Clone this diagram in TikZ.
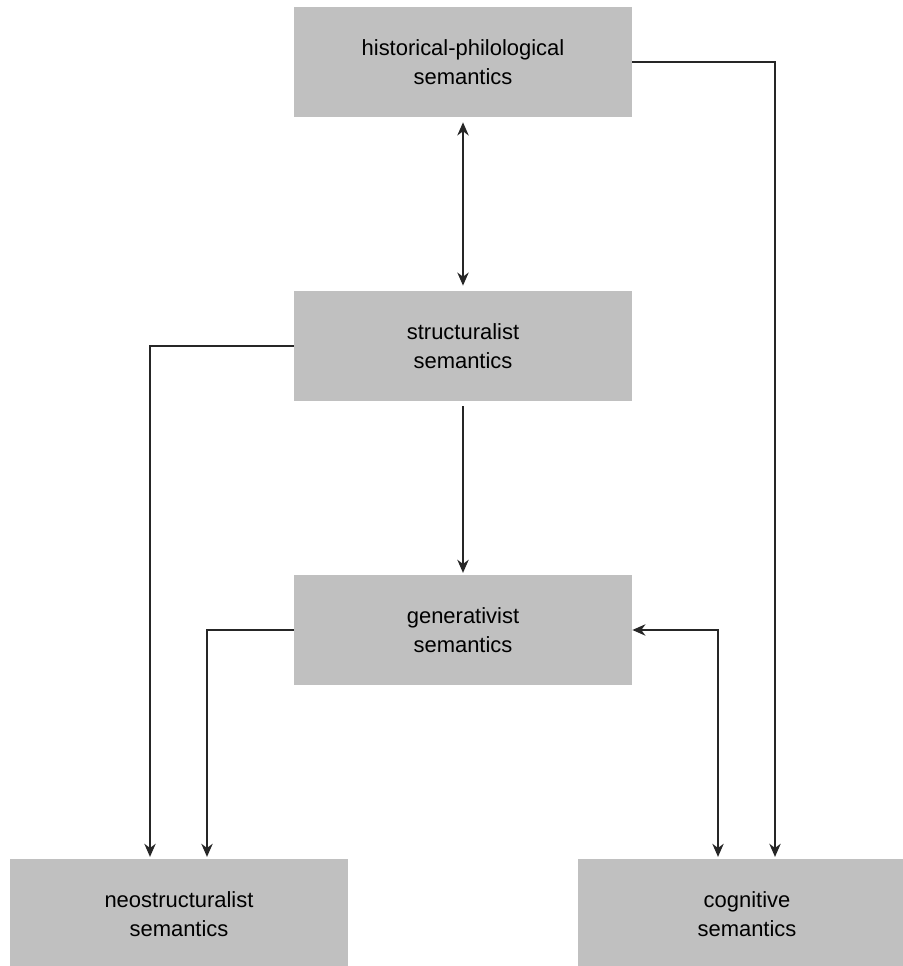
\documentclass[tikz,border=0pt]{standalone}
\usepackage{fontspec}
\setmainfont{Liberation Sans}
\usepackage{tikz}
\usetikzlibrary{calc,positioning,arrows.meta}

\definecolor{boxgray}{HTML}{C0C0C0}
\tikzset{
	sembox/.style={fill=boxgray, minimum width=6.76cm, minimum height=2.2cm, align=center,
		font=\fontsize{12.5}{16.4}\selectfont, inner sep=0pt},
	link/.style={line width=0.9pt, draw=black!85, -{Stealth[length=7.5pt,width=6.5pt]}, shorten >=1pt},
	twolink/.style={link, {Stealth[length=7.5pt,width=6.5pt]}-{Stealth[length=7.5pt,width=6.5pt]}, shorten <=1pt}
}

\begin{document}
\begin{tikzpicture}
			\useasboundingbox (0,0) rectangle (18.04,19.32);

			\node[sembox] (hist) at(9.26, 18.08){historical-philological\\semantics};
			\node[sembox] (struct) at(9.26, 12.40){structuralist\\semantics};
			\node[sembox] (gen) at(9.26, 6.72){generativist\\semantics};
			\node[sembox] (neo) at(3.58, 1.04){neostructuralist\\semantics};
			\node[sembox] (cog) at(14.94, 1.04){cognitive\\semantics};

			% vertical chain
			\draw[twolink, shorten <=0.1cm, shorten >=0.1cm] (hist) -- (struct);
			\draw[link, shorten <=0.1cm] (struct) -- (gen);

			% into neostructuralist
			\draw[link] (struct.west) -| ($(neo.north)+(-0.58,0)$);
			\draw[link] (gen.west) -| ($(neo.north)+(0.56,0)$);

			% into cognitive
			\draw[twolink, shorten <=0pt] (gen.east) -| ($(cog.north)+(-0.58,0)$);
			\draw[link] (hist.east) -| ($(cog.north)+(0.56,0)$);
		\end{tikzpicture}
\end{document}
